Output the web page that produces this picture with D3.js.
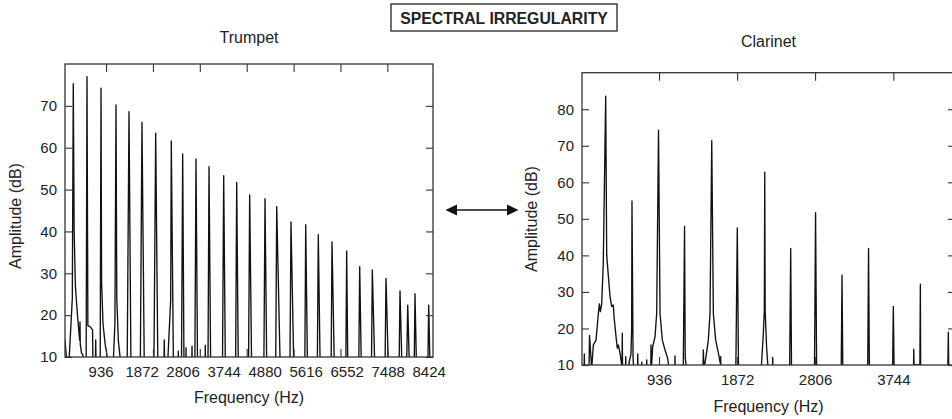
<!DOCTYPE html>
<html>
<head>
<meta charset="utf-8">
<script src="https://cdn.jsdelivr.net/npm/d3@7/dist/d3.min.js"></script>
<style>
  body { margin: 0; background: #fff; }
  svg text { font-family: "Liberation Sans", Arial, Helvetica, sans-serif; fill: #222; }
</style>
</head>
<body>
<div class="chartContainer"></div>
<script>
//spectrum of the trumpet, [frequency Hz, amplitude dB], values under 10 dB sit below the axis
const trumpetSpectrum = [
  [123, 14], [195, 5], [290, 24], [312, 75.3],
  [332, 40], [360, 27], [400, 21], [440, 16], [458, 14], [465, 18.4], [472, 13], [500, 11], [530, 10.5], [560, 5],
  [605, 5], [625, 77.0], [645, 17.5], [700, 17.2], [752, 16.5], [765, 5],
  [812, 5], [824, 14.1], [836, 5],
  [925, 5], [945, 74.2], [958, 28], [990, 18], [1040, 13], [1085, 10.2], [1110, 5],
  [1210, 5], [1262, 18], [1287, 70.2], [1305, 24], [1340, 14], [1378, 10.2], [1400, 5],
  [1540, 5], [1584, 68.6], [1630, 5],
  [1840, 5], [1880, 66.1], [1935, 5],
  [2150, 5], [2193, 63.5], [2245, 5],
  [2378, 5], [2389, 14.1], [2400, 5],
  [2450, 5], [2535, 23.6], [2549, 61.6], [2600, 5],
  [2700, 5], [2709, 11.4], [2718, 5],
  [2780, 5], [2809, 58.5], [2840, 5],
  [2878, 5], [2885, 12.2], [2892, 5],
  [3014, 5], [3022, 12.6], [3030, 5],
  [3085, 5], [3113, 57.3], [3150, 5],
  [3316, 5], [3325, 12.8], [3334, 5],
  [3385, 5], [3410, 55.5], [3450, 5],
  [3715, 5], [3745, 53.3], [3785, 5],
  [4015, 5], [4042, 51.7], [4080, 5],
  [4310, 5], [4338, 48.7], [4385, 5],
  [4660, 5], [4688, 47.8], [4730, 5],
  [4930, 5], [4955, 45.9], [5040, 5],
  [5255, 5], [5281, 42.3], [5350, 5],
  [5595, 5], [5617, 41.6], [5660, 5],
  [5880, 5], [5904, 39.2], [5950, 5],
  [6195, 5], [6217, 37.5], [6275, 5],
  [6530, 5], [6552, 35.3], [6580, 5],
  [6825, 5], [6849, 31.6], [6890, 5],
  [7115, 5], [7137, 30.8], [7200, 5],
  [7425, 5], [7449, 28.8], [7510, 5],
  [7745, 5], [7769, 25.8], [7820, 5],
  [7915, 5], [7945, 22.4], [7990, 5],
  [8090, 5], [8111, 25.1], [8150, 5],
  [8400, 5], [8424, 22.4], [8460, 5]
];

//spectrum of the clarinet
const clarinetSpectrum = [
  [13, 5], [35, 5], [41, 13.0], [47, 5],
  [95, 5], [103, 18.1], [129, 9], [149, 15.5], [181, 16.8], [209, 24.1], [221, 26.7], [233, 24.6], [249, 26.7],
  [268, 37.9], [297, 83.6], [309, 40], [349, 28.7], [369, 26], [388, 26.4], [397, 23.2], [421, 17.7],
  [436, 14.6], [448, 15.5], [469, 13.2], [486, 10.5], [492, 9], [496, 18.7], [500, 5],
  [532, 5], [537, 12.3], [542, 5],
  [556, 5], [580, 11], [600, 13], [608, 20], [612, 54.9], [625, 12], [640, 5],
  [676, 5], [681, 13], [686, 5],
  [725, 5], [729, 10.8], [733, 5],
  [784, 5], [789, 11.4], [794, 5],
  [835, 5], [840, 15.5], [845, 9], [860, 15], [888, 17.7], [908, 24.1], [930, 74.3], [948, 24.1],
  [976, 16.8], [1008, 14.1], [1040, 11.8], [1056, 9], [1060, 5],
  [1124, 5], [1128, 12.5], [1132, 5],
  [1225, 5], [1242, 47.9], [1250, 12], [1265, 9], [1328, 5],
  [1460, 5], [1467, 14.1], [1474, 9], [1496, 11.8], [1527, 16.8], [1547, 24.1], [1568, 71.4], [1587, 24.1],
  [1615, 16.8], [1647, 13.3], [1670, 10.5], [1675, 12.3], [1680, 5],
  [1855, 5], [1874, 47.5], [1890, 5],
  [2150, 5], [2185, 18], [2198, 25], [2203, 62.8], [2208, 25], [2225, 15], [2255, 5],
  [2295, 5], [2299, 12.1], [2303, 5],
  [2500, 5], [2514, 41.9], [2525, 5],
  [2798, 5], [2812, 51.7], [2826, 5],
  [3118, 5], [3129, 34.6], [3140, 5],
  [3436, 5], [3447, 41.9], [3458, 5],
  [3733, 5], [3744, 26.0], [3755, 5],
  [3984, 5], [3989, 14.3], [3992, 10], [4062, 10], [4068, 32.1], [4072, 5],
  [4395, 5], [4403, 19.0], [4410, 5], [4483, 5]
];

//tick labels under the x axes (the trumpet one keeps the "4880" of the original)
const trumpetLabelValues = [936, 1872, 2806, 3744, 4680, 5616, 6552, 7488, 8424];
const trumpetLabelText = ['936', '1872', '2806', '3744', '4880', '5616', '6552', '7488', '8424'];
const trumpetFrameTicks = [1060, 2130, 3200, 4270, 5340, 6410, 7480];
const trumpetAmpTicks = [10, 20, 30, 40, 50, 60, 70];

const clarinetLabelValues = [936, 1872, 2806, 3744];
const clarinetLabelText = ['936', '1872', '2806', '3744'];
const clarinetFrameTicks = [936, 1872, 2806, 3744];
const clarinetAmpTicks = [10, 20, 30, 40, 50, 60, 70, 80];

const width = 952;
const height = 419;
const fontFamily = '"Liberation Sans", Arial, Helvetica, sans-serif';

const svg = d3.select('.chartContainer')
  .append('svg')
  .attr('width', width)
  .attr('height', height);

//one framed spectrum plot
function drawPanel(p) {
  const xScale = d3.scaleLinear().domain(p.freqDomain).range([p.left, p.right]);
  const yScale = d3.scaleLinear().domain(p.ampDomain).range([p.bottom, p.top]);

  const g = svg.append('g').attr('class', p.id);

  g.append('clipPath')
    .attr('id', 'clip-' + p.id)
    .append('rect')
    .attr('x', p.left)
    .attr('y', p.top)
    .attr('width', p.right - p.left)
    .attr('height', p.bottom - p.top);

  const line = d3.line()
    .x(d => xScale(d[0]))
    .y(d => yScale(d[1]));

  g.append('path')
    .datum(p.spectrum)
    .attr('clip-path', `url(#clip-${p.id})`)
    .attr('d', line)
    .attr('fill', 'none')
    .attr('stroke', '#111')
    .attr('stroke-width', 1.35)
    .attr('stroke-linejoin', 'round');

  //styling shared by all axes
  const styleAxis = sel => {
    sel.attr('font-size', 15)
      .attr('font-family', fontFamily)
      .attr('color', '#333');
    sel.select('.domain').remove();
    sel.selectAll('.tick line').attr('stroke-width', 1.1);
  };

  //frequency labels
  g.append('g')
    .attr('transform', `translate(0, ${p.bottom})`)
    .call(d3.axisBottom(xScale)
      .tickValues(p.labelValues)
      .tickFormat((d, i) => p.labelText[i])
      .tickSize(0)
      .tickPadding(9))
    .call(styleAxis);

  //tick marks point into the frame
  g.append('g')
    .attr('transform', `translate(0, ${p.bottom})`)
    .call(d3.axisBottom(xScale).tickValues(p.frameTicks).tickFormat('').tickSizeInner(-8).tickSizeOuter(0))
    .call(styleAxis);

  g.append('g')
    .attr('transform', `translate(0, ${p.top})`)
    .call(d3.axisTop(xScale).tickValues(p.frameTicks).tickFormat('').tickSizeInner(-8).tickSizeOuter(0))
    .call(styleAxis);

  g.append('g')
    .attr('transform', `translate(${p.left}, 0)`)
    .call(d3.axisLeft(yScale).tickValues(p.ampTicks).tickFormat(d3.format('d')).tickSizeInner(-7).tickSizeOuter(0).tickPadding(8))
    .call(styleAxis);

  g.append('g')
    .attr('transform', `translate(${p.right}, 0)`)
    .call(d3.axisRight(yScale).tickValues(p.ampTicks).tickFormat('').tickSizeInner(-7).tickSizeOuter(0))
    .call(styleAxis);

  g.append('rect')
    .attr('x', p.left)
    .attr('y', p.top)
    .attr('width', p.right - p.left)
    .attr('height', p.bottom - p.top)
    .attr('fill', 'none')
    .attr('stroke', '#333')
    .attr('stroke-width', 1.3);

  //titles
  g.append('text')
    .attr('x', (p.left + p.right) / 2)
    .attr('y', p.titleY)
    .attr('text-anchor', 'middle')
    .style('font-size', '16px')
    .text(p.title);

  g.append('text')
    .attr('x', (p.left + p.right) / 2)
    .attr('y', p.xLabelY)
    .attr('text-anchor', 'middle')
    .style('font-size', '16px')
    .text('Frequency (Hz)');

  g.append('text')
    .attr('transform', `translate(${p.yLabelX}, ${p.yLabelY}) rotate(-90)`)
    .attr('text-anchor', 'middle')
    .style('font-size', '16px')
    .text('Amplitude (dB)');
}

drawPanel({
  id: 'trumpet', title: 'Trumpet', spectrum: trumpetSpectrum,
  left: 65, right: 433, top: 64, bottom: 357,
  freqDomain: [123, 8522], ampDomain: [10, 80],
  labelValues: trumpetLabelValues, labelText: trumpetLabelText,
  frameTicks: trumpetFrameTicks, ampTicks: trumpetAmpTicks,
  titleY: 43, xLabelY: 403, yLabelX: 21, yLabelY: 216
});

drawPanel({
  id: 'clarinet', title: 'Clarinet', spectrum: clarinetSpectrum,
  left: 582, right: 955, top: 72.7, bottom: 365,
  freqDomain: [13, 4483], ampDomain: [10, 90],
  labelValues: clarinetLabelValues, labelText: clarinetLabelText,
  frameTicks: clarinetFrameTicks, ampTicks: clarinetAmpTicks,
  titleY: 46.5, xLabelY: 412, yLabelX: 537, yLabelY: 219
});

//header box
svg.append('rect')
  .attr('x', 391)
  .attr('y', 4)
  .attr('width', 226)
  .attr('height', 27)
  .attr('fill', 'none')
  .attr('stroke', '#222')
  .attr('stroke-width', 1.3);

svg.append('text')
  .attr('x', 504)
  .attr('y', 23.5)
  .attr('text-anchor', 'middle')
  .style('font-size', '15.8px')
  .style('font-weight', 'bold')
  .text('SPECTRAL IRREGULARITY');

//double arrow between the plots
const arrow = svg.append('g').attr('class', 'arrow');
arrow.append('line')
  .attr('x1', 452).attr('x2', 512)
  .attr('y1', 210).attr('y2', 210)
  .attr('stroke', '#111')
  .attr('stroke-width', 1.5);
arrow.append('path')
  .attr('d', 'M445.5,210 L457,204.5 L457,215.5 Z')
  .attr('fill', '#111');
arrow.append('path')
  .attr('d', 'M518.5,210 L507,204.5 L507,215.5 Z')
  .attr('fill', '#111');
</script>
</body>
</html>
